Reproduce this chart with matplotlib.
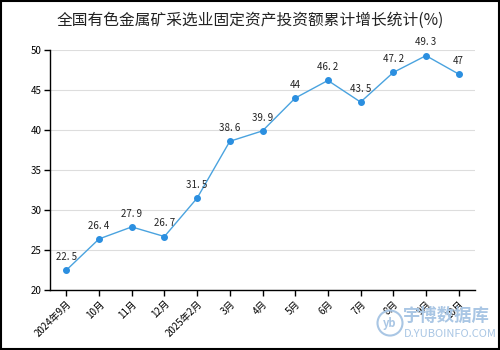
import matplotlib
matplotlib.use("Agg")
import matplotlib.pyplot as plt
from matplotlib.patches import Ellipse, Rectangle

plt.rcParams['font.family'] = ['Noto Sans CJK SC', 'DejaVu Sans']

months = ["2024年9月", "10月", "11月", "12月", "2025年2月", "3月", "4月",
          "5月", "6月", "7月", "8月", "9月", "10月"]
growth = [22.5, 26.4, 27.9, 26.7, 31.5, 38.6, 39.9, 44, 46.2, 43.5, 47.2, 49.3, 47]
value_labels = ["22. 5", "26. 4", "27. 9", "26. 7", "31. 5", "38. 6", "39. 9",
                "44", "46. 2", "43. 5", "47. 2", "49. 3", "47"]
title = "全国有色金属矿采选业固定资产投资额累计增长统计(%)"

fig = plt.figure(figsize=(5, 3.5), dpi=100)

# watermark (drawn first so the chart sits on top)
wm = "#a9c6e4"
fig.patches.append(Ellipse((0.78, 0.077), 0.05, 0.05 * 500 / 350,
                           transform=fig.transFigure, fill=False, ec=wm,
                           lw=1.5, figure=fig, zorder=0))
fig.text(0.78, 0.077, "yb", ha="center", va="center", fontsize=8,
         color=wm, style="italic", fontweight="bold", zorder=0)
fig.text(0.806, 0.097, "宇博数据库", ha="left", va="center", fontsize=12.5,
         color=wm, fontweight="bold", zorder=0)
fig.text(0.808, 0.047, "D.YUBOINFO.COM", ha="left", va="center", fontsize=8,
         color=wm, zorder=0)

ax = fig.add_axes([0.1, 0.171, 0.85, 0.686])
ax.patch.set_alpha(0)

x = list(range(len(months)))
line_color = "#4aa3df"
ax.plot(x, growth, color=line_color, lw=1.0, marker="o", ms=4,
        markerfacecolor="#2b8fe0", markeredgecolor="#2b8fe0", zorder=3)

for xi, yi, lab in zip(x, growth, value_labels):
    ax.annotate(lab, (xi, yi), xytext=(0, 6), textcoords="offset points",
                ha="center", va="bottom", fontsize=7, color="#222222")

ax.set_xlim(-0.5, len(months) - 0.5)
ax.set_ylim(20, 50)
ax.set_yticks(range(20, 51, 5))
ax.set_xticks(x)
ax.set_xticklabels(months, rotation=45, ha="right", rotation_mode="anchor",
                   fontsize=7)
ax.tick_params(axis="y", labelsize=7, length=4, width=1, pad=2)
ax.tick_params(axis="x", length=4, width=1, pad=2)
ax.grid(axis="y", color="#dddddd", lw=0.8)
ax.set_axisbelow(True)
for s in ("top", "right"):
    ax.spines[s].set_visible(False)
for s in ("left", "bottom"):
    ax.spines[s].set_linewidth(1.0)
    ax.spines[s].set_color("black")

fig.text(0.5, 0.943, title, ha="center", va="center", fontsize=11.3,
         color="#222222")

# outer frame
fig.patches.append(Rectangle((0.002, 0.003), 0.996, 0.994,
                             transform=fig.transFigure, fill=False,
                             ec="black", lw=1.5, figure=fig))

fig.savefig("out.png", dpi=100)
